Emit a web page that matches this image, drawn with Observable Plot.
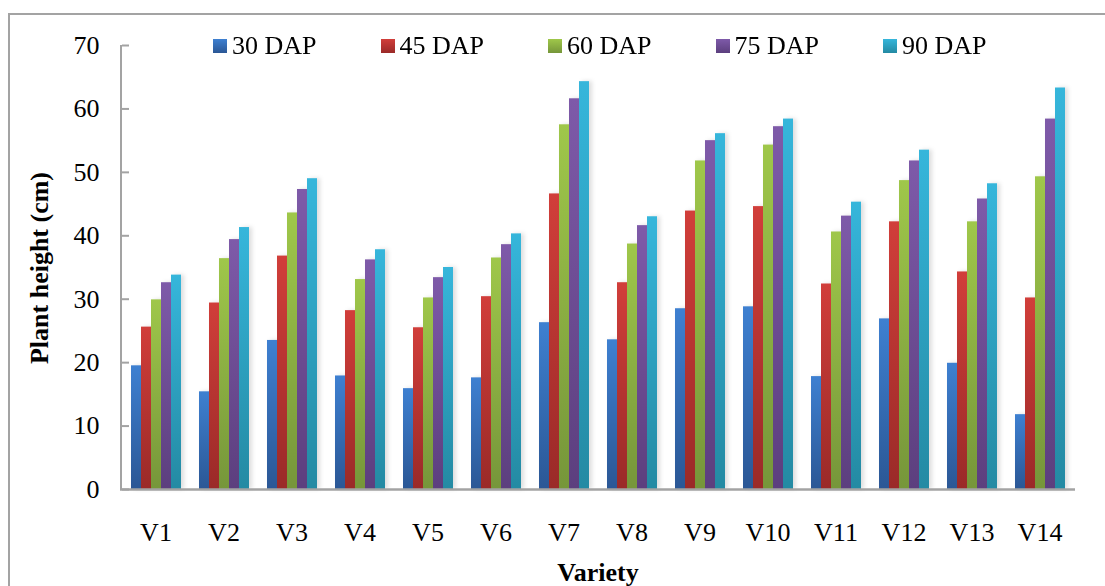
<!DOCTYPE html>
<html>
<head>
<meta charset="utf-8">
<script src="https://cdn.jsdelivr.net/npm/d3@7"></script>
<script src="https://cdn.jsdelivr.net/npm/@observablehq/plot@0.6"></script>
<style>
  html, body { margin: 0; padding: 0; background: #fff; }
  #wrap { position: relative; width: 1105px; height: 586px; overflow: hidden; background: #fff;
          font-family: "Liberation Serif", "Times New Roman", serif; color: #000; }
  #frame { position: absolute; left: 8px; top: 13px; width: 1200px; height: 700px;
           border: 2px solid #a3a3a3; box-sizing: border-box; }
  #chart { position: absolute; left: 0; top: 0; }
  #legend { position: absolute; left: 213px; top: 31px; display: flex; font-size: 26px; line-height: 30px; }
  .item { width: 167.5px; display: flex; align-items: center; white-space: nowrap; }
  .sw { width: 14px; height: 14px; margin-right: 5px; }
  #ytitle { position: absolute; left: 40px; top: 268px; transform: translate(-50%, -50%) rotate(-90deg);
            font-weight: bold; font-size: 26px; white-space: nowrap; }
  #xtitle { position: absolute; left: 598px; top: 573px; transform: translate(-50%, -50%);
            font-weight: bold; font-size: 26px; white-space: nowrap; }
</style>
</head>
<body>
<div id="wrap">
  <div id="frame"></div>
  <div id="chart"></div>
  <div id="legend"></div>
  <div id="ytitle">Plant height (cm)</div>
  <div id="xtitle">Variety</div>
</div>
<script>
const varieties = ["V1","V2","V3","V4","V5","V6","V7","V8","V9","V10","V11","V12","V13","V14"];
const series = ["30 DAP","45 DAP","60 DAP","75 DAP","90 DAP"];
const dap30 = [19.5,15.4,23.5,17.9,15.9,17.6,26.3,23.6,28.5,28.8,17.8,26.9,19.9,11.8];
const dap45 = [25.6,29.4,36.8,28.2,25.5,30.4,46.6,32.6,43.9,44.6,32.4,42.2,34.3,30.2];
const dap60 = [29.9,36.4,43.6,33.1,30.2,36.5,57.5,38.7,51.8,54.3,40.6,48.7,42.2,49.3];
const dap75 = [32.6,39.4,47.3,36.2,33.4,38.6,61.6,41.6,55.0,57.2,43.1,51.8,45.8,58.4];
const dap90 = [33.8,41.3,49.0,37.8,35.0,40.3,64.3,43.0,56.1,58.4,45.3,53.5,48.2,63.3];
const yTicks = [0,10,20,30,40,50,60,70];

const topColors = ["#3e80d1","#d13e3a","#9fc74a","#7e5aa9","#36b6db"];
const bottomColors = ["#2b5795","#9a2a28","#76963a","#5c3f7e","#248aa3"];

const seriesValues = [dap30, dap45, dap60, dap75, dap90];
const data = varieties.flatMap((v, i) => series.map((s, j) => ({variety: v, series: s, value: seriesValues[j][i]})));
const gradIds = series.map((s, j) => "grad" + j);

const plot = Plot.plot({
  width: 1105,
  height: 586,
  marginLeft: 121,
  marginRight: 30,
  marginTop: 45,
  marginBottom: 97,
  style: {fontFamily: "'Liberation Serif', 'Times New Roman', serif", fontSize: "26px", color: "#000", background: "transparent", overflow: "visible"},
  fx: {domain: varieties, paddingInner: 0.22, paddingOuter: 0.11, label: null},
  x: {domain: series, padding: 0, axis: null},
  y: {domain: [0, 70], label: null},
  color: {domain: series, range: gradIds.map(id => `url(#${id})`)},
  marks: [
    Plot.barY(data, {fx: "variety", x: "series", y: "value", fill: "series", inset: 0}),
    Plot.axisY({ticks: yTicks, tickSize: 7, tickPadding: 17, label: null, stroke: "#a3a3a3", strokeWidth: 2}),
    Plot.axisY({ticks: yTicks, tickSize: 0, tickPadding: 24, dx: -6, label: null, fill: "#000", text: d => String(d)}),
    Plot.axisFx({anchor: "bottom", tickSize: 0, tickPadding: 33, label: null, fill: "#000"})
  ]
});

const svg = d3.select(plot);
// hide the text of the first (tick-only) y axis
svg.selectAll("g[aria-label='y-axis tick label']").filter((d, i) => i === 0).remove();
const defs = svg.insert("defs", ":first-child");
gradIds.forEach((id, j) => {
  const g = defs.append("linearGradient").attr("id", id).attr("x1", 0).attr("y1", 0).attr("x2", 0).attr("y2", 1);
  g.append("stop").attr("offset", "0%").attr("stop-color", topColors[j]);
  g.append("stop").attr("offset", "100%").attr("stop-color", bottomColors[j]);
});
svg.selectAll("g[aria-label='bar']").style("filter", "drop-shadow(3px 0px 2px rgba(0,0,0,0.13))");

// axis lines
const y = plot.scale("y");
const y0 = y.apply(0), y70 = y.apply(70);
svg.append("line").attr("x1", 121).attr("x2", 121).attr("y1", y70).attr("y2", y0)
  .attr("stroke", "#a3a3a3").attr("stroke-width", 2);
svg.append("line").attr("x1", 120).attr("x2", 1105 - 30).attr("y1", y0 + 0.5).attr("y2", y0 + 0.5)
  .attr("stroke", "#a3a3a3").attr("stroke-width", 2.5);

document.getElementById("chart").appendChild(plot);

// legend
const legend = document.getElementById("legend");
series.forEach((s, j) => {
  const item = document.createElement("div");
  item.className = "item";
  const sw = document.createElement("div");
  sw.className = "sw";
  sw.style.background = `linear-gradient(${topColors[j]}, ${bottomColors[j]})`;
  const t = document.createElement("span");
  t.textContent = s;
  item.appendChild(sw);
  item.appendChild(t);
  legend.appendChild(item);
});
</script>
</body>
</html>
